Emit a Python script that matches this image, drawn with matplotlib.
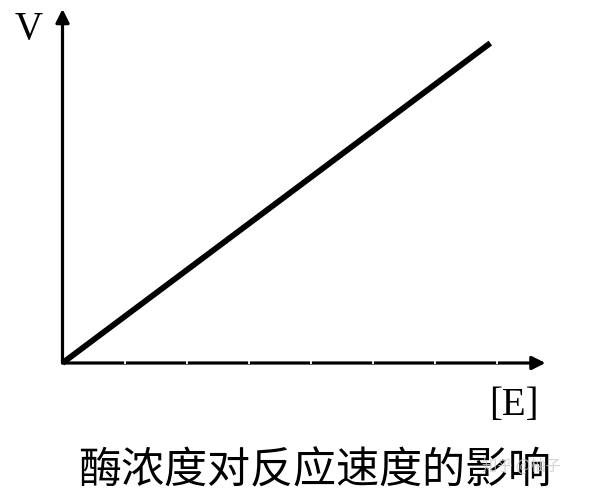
import matplotlib
matplotlib.use("Agg")
import matplotlib.pyplot as plt

# 数据：酶浓度 [E] 与反应速度 V 成正比
conc = [0, 6.9]
speed = [0, 5.16]
tick_pos = [1, 2, 3, 4, 5, 6, 7]
x_label = "[E]"
y_label = "V"
title = "酶浓度对反应速度的影响"
watermark = "知乎 @柚子"

fig = plt.figure(figsize=(6.0, 5.03), dpi=100)
ax = fig.add_axes([62.5 / 600, 140 / 503, 483 / 600, 354 / 503])
ax.set_xlim(0, 7.79)
ax.set_ylim(0, 5.71)
for s in ax.spines.values():
    s.set_visible(False)
ax.set_xticks([])
ax.set_yticks([])

# 坐标轴箭头
arrow = dict(arrowstyle='-|>', lw=2.3, color='black', mutation_scale=20, shrinkA=0, shrinkB=0)
ax.annotate('', xy=(7.79, 0), xytext=(0, 0), arrowprops=arrow, annotation_clip=False)
ax.annotate('', xy=(0, 5.71), xytext=(0, 0), arrowprops=arrow, annotation_clip=False)

# 直线
ax.plot(conc, speed, color='black', lw=4.2, solid_capstyle='butt', clip_on=False, zorder=4)

# 白色小刻度
ax.plot(tick_pos, [0.012] * len(tick_pos), linestyle='none', marker='|', color='white',
        markersize=3, markeredgewidth=1.3, clip_on=False, zorder=5)

fig.text(29 / 600, 1 - 29 / 503, y_label, family='Liberation Serif', fontsize=28,
         ha='center', va='center')
fig.text(514 / 600, 1 - 406 / 503, x_label, family='Liberation Serif', fontsize=28,
         ha='center', va='center')
fig.text(315 / 600, 1 - 471 / 503, title, family=['Noto Sans CJK SC', 'DejaVu Sans'],
         fontsize=31, ha='center', va='center')
fig.text(521 / 600, 1 - 466 / 503, watermark, family=['Noto Sans CJK SC', 'DejaVu Sans'],
         fontsize=11, color='#c8c8c8', alpha=0.8, ha='center', va='center')

fig.savefig("out.png", dpi=100)
